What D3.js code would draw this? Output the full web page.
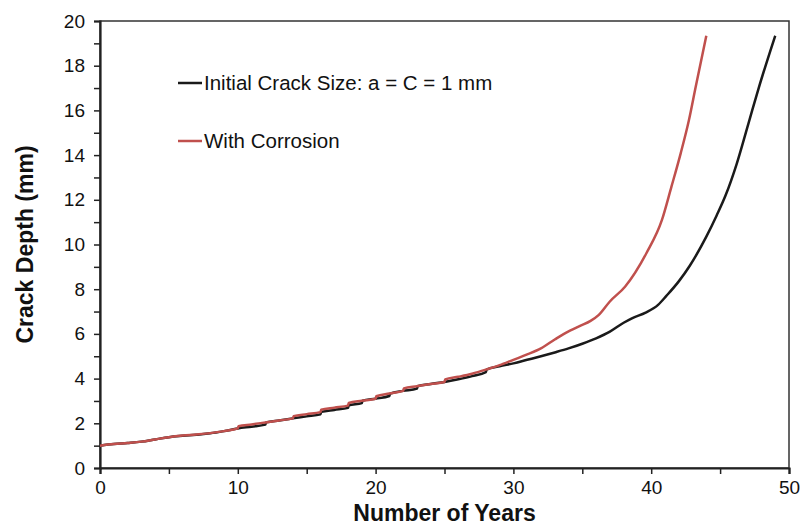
<!DOCTYPE html>
<html>
<head>
<meta charset="utf-8">
<script src="https://cdn.jsdelivr.net/npm/d3@7"></script>
<style>
  body { margin: 0; background: #fff; }
  svg { font-family: "Liberation Sans", Arial, sans-serif; }
</style>
</head>
<body>
<div id="chart"></div>
<script>
// years / crack depth (mm)
var base_years = [0, 1, 2, 3, 4, 5, 6, 7, 8, 9, 10, 11, 12, 12.05, 13, 14, 15, 16, 16.05, 17, 18, 18.05, 19, 19.05, 20, 21, 21.05, 22, 23, 23.05, 24, 25, 26, 27, 28, 28.05, 29, 30, 31, 32, 33, 34, 35, 36, 37, 38, 38.6, 39.6, 40.5, 41.1, 42, 42.8, 44, 44.75, 45.4, 46.2, 47.05, 47.8, 49]
var base_depth = [1.00, 1.07, 1.12, 1.18, 1.28, 1.38, 1.44, 1.49, 1.55, 1.65, 1.77, 1.85, 1.94, 2.04, 2.13, 2.22, 2.31, 2.40, 2.51, 2.60, 2.69, 2.80, 2.90, 3.01, 3.10, 3.22, 3.33, 3.45, 3.55, 3.66, 3.76, 3.85, 3.97, 4.11, 4.29, 4.40, 4.55, 4.68, 4.84, 5.00, 5.17, 5.35, 5.56, 5.80, 6.10, 6.50, 6.70, 6.95, 7.30, 7.70, 8.35, 9.05, 10.35, 11.3, 12.2, 13.6, 15.4, 17.0, 19.34]

var corr_years = [0, 1, 2, 3, 4, 5, 6, 7, 8, 9, 10, 10.05, 11, 12, 13, 14, 14.05, 15, 16, 16.05, 17, 18, 18.05, 19, 20, 20.05, 21, 22, 22.05, 23, 24, 25, 25.05, 26, 27, 28, 29, 30, 31, 32, 33, 33.8, 34.8, 35.6, 36.2, 37, 38.1, 39.65, 40.78, 41.47, 42.14, 42.74, 43.23, 44]
var corr_depth = [1.00, 1.07, 1.12, 1.18, 1.28, 1.38, 1.45, 1.50, 1.56, 1.65, 1.77, 1.87, 1.95, 2.04, 2.13, 2.22, 2.32, 2.41, 2.50, 2.61, 2.70, 2.79, 2.91, 3.01, 3.10, 3.21, 3.33, 3.45, 3.56, 3.66, 3.76, 3.85, 3.96, 4.08, 4.22, 4.40, 4.60, 4.84, 5.08, 5.35, 5.75, 6.05, 6.35, 6.58, 6.85, 7.45, 8.11, 9.61, 11.1, 12.59, 14.08, 15.57, 17.06, 19.34]

var series_names = ["Initial Crack Size: a = C = 1 mm", "With Corrosion"]
var series_colors = ["#1a1a1a", "#c0504d"]
var x_ticks = [0, 10, 20, 30, 40, 50]
var y_ticks = [0, 2, 4, 6, 8, 10, 12, 14, 16, 18, 20]

var margin = { top: 21, right: 12, bottom: 57, left: 100 }
var width = 801 - margin.left - margin.right,
    height = 525 - margin.top - margin.bottom

var svg = d3.select("#chart")
    .append("svg")
    .attr("width", 801)
    .attr("height", 525)
    .append("g")
    .attr("transform", "translate(" + margin.left + "," + margin.top + ")")

var xScale = d3.scaleLinear().domain([0, 50]).range([0, width])
var yScale = d3.scaleLinear().domain([0, 20]).range([height, 0])

// box
svg.append("rect")
    .attr("x", 0).attr("y", 0)
    .attr("width", width).attr("height", height)
    .attr("fill", "none")
    .attr("stroke", "#333")
    .attr("stroke-width", 1.5)

// X axis
var xAxis = svg.append("g")
    .attr("transform", "translate(0," + height + ")")
    .call(d3.axisBottom(xScale).tickValues(d3.range(0, 51, 5)).tickSize(6)
        .tickFormat(function (d) { return x_ticks.indexOf(d) >= 0 ? d : "" }))
xAxis.select(".domain").attr("stroke", "#222").attr("stroke-width", 2.2)
xAxis.selectAll(".tick line").attr("stroke", "#222").attr("stroke-width", 1.5)
xAxis.selectAll(".tick text")
    .attr("font-size", 19).attr("fill", "#111").attr("dy", "0.9em")
    .attr("font-family", "Liberation Sans, Arial, sans-serif")

// Y axis
var yAxis = svg.append("g")
    .call(d3.axisLeft(yScale).tickValues(d3.range(0, 21, 1)).tickSize(6)
        .tickFormat(function (d) { return y_ticks.indexOf(d) >= 0 ? d : "" }))
yAxis.select(".domain").attr("stroke", "#222").attr("stroke-width", 2.2)
yAxis.selectAll(".tick line").attr("stroke", "#222").attr("stroke-width", 1.5)
yAxis.selectAll(".tick text")
    .attr("font-size", 19).attr("fill", "#111").attr("x", -15)
    .attr("font-family", "Liberation Sans, Arial, sans-serif")

// lines
var line = d3.line()
    .x(function (d) { return xScale(d[0]) })
    .y(function (d) { return yScale(d[1]) })
    .curve(d3.curveMonotoneX)

var base_data = base_years.map(function (x, i) { return [x, base_depth[i]] })
var corr_data = corr_years.map(function (x, i) { return [x, corr_depth[i]] })

svg.append("path")
    .datum(base_data)
    .attr("d", line)
    .attr("fill", "none")
    .attr("stroke", series_colors[0])
    .attr("stroke-width", 2.5)

svg.append("path")
    .datum(corr_data)
    .attr("d", line)
    .attr("fill", "none")
    .attr("stroke", series_colors[1])
    .attr("stroke-width", 2.5)

// legend
var legend = svg.selectAll(".legend")
    .data(series_names)
    .enter()
    .append("g")
    .attr("transform", function (d, i) { return "translate(78," + (62 + i * 58) + ")" })

legend.append("line")
    .attr("x1", 0).attr("x2", 24)
    .attr("y1", 0).attr("y2", 0)
    .attr("stroke", function (d, i) { return series_colors[i] })
    .attr("stroke-width", 2.5)

legend.append("text")
    .attr("x", 26)
    .attr("y", 0)
    .attr("dy", "0.35em")
    .attr("font-size", 20.5)
    .attr("fill", "#111")
    .text(function (d) { return d })

// axis titles
svg.append("text")
    .attr("text-anchor", "middle")
    .attr("x", width / 2)
    .attr("y", height + 53)
    .attr("font-size", 23)
    .attr("font-weight", "bold")
    .attr("fill", "#111")
    .text("Number of Years")

svg.append("text")
    .attr("text-anchor", "middle")
    .attr("transform", "rotate(-90)")
    .attr("x", -height / 2)
    .attr("y", -67)
    .attr("font-size", 23)
    .attr("font-weight", "bold")
    .attr("fill", "#111")
    .text("Crack Depth (mm)")
</script>
</body>
</html>
